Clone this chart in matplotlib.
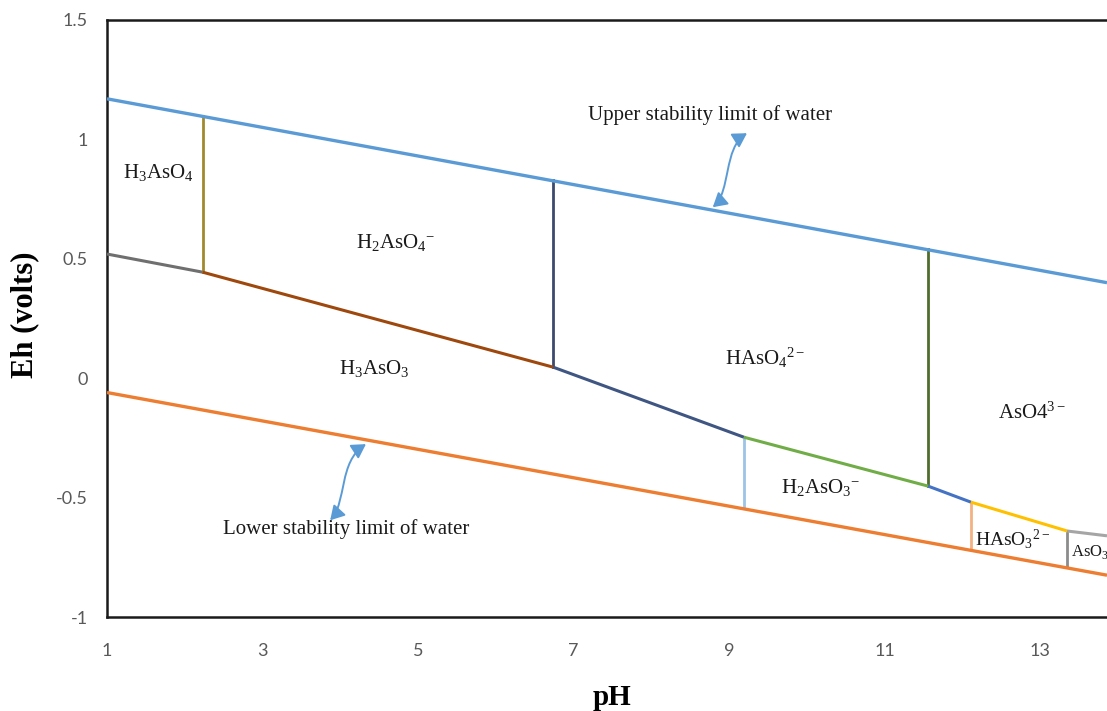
import matplotlib
matplotlib.use("Agg")
import matplotlib.pyplot as plt
from matplotlib.patches import FancyArrowPatch
from matplotlib.path import Path

plt.rcParams['mathtext.fontset'] = 'custom'
plt.rcParams['mathtext.rm'] = 'Liberation Serif'
plt.rcParams['mathtext.it'] = 'Liberation Serif:italic'
plt.rcParams['mathtext.bf'] = 'Liberation Serif:bold'

# ---- data ----
# water stability limits
water_ph = [1.0, 13.86]
upper_eh = [1.17, 0.40]
lower_eh = [-0.06, -0.825]

# arsenate / arsenite boundary (piecewise)
bound_ph = [1.0, 2.23, 6.74, 9.19, 11.56, 12.11, 13.35, 13.86]
bound_eh = [0.52, 0.444, 0.046, -0.247, -0.452, -0.519, -0.64, -0.66]
bound_colors = ['#6f6f6f', '#9e480e', '#3f5683', '#70ad47', '#4472c4',
                '#ffc000', '#a5a5a5']

# vertical (acid-base) boundaries
vert_ph = [2.23, 6.74, 11.56, 9.19, 12.11, 13.35]
vert_top = [1.10, 0.83, 0.54, -0.247, -0.519, -0.64]
vert_bottom = [0.444, 0.046, -0.452, -0.54, -0.71, -0.79]
vert_colors = ['#a08a2e', '#3b4a6e', '#4e6e2e', '#9dc3e6', '#f4b183', '#8c8c8c']

# species labels
species = [r'H$_3$AsO$_4$', r'H$_2$AsO$_4$$^{-}$', r'HAsO$_4$$^{2-}$', r'H$_3$AsO$_3$',
           r'AsO4$^{3-}$', r'H$_2$AsO$_3$$^{-}$', r'HAsO$_3$$^{2-}$']
species_ph = [1.66, 4.71, 9.46, 4.44, 12.9, 10.17, 12.65]
species_eh = [0.86, 0.57, 0.084, 0.042, -0.147, -0.456, -0.672]

x_ticks = [1, 3, 5, 7, 9, 11, 13]
y_ticks = [-1, -0.5, 0, 0.5, 1, 1.5]
y_ticklabels = ['-1', '-0.5', '0', '0.5', '1', '1.5']

# ---- figure ----
fig = plt.figure(figsize=(11.07, 7.11), dpi=100)
ax = fig.add_axes([107 / 1107, 1 - 617 / 711, 1000 / 1107, 597 / 711])

ax.plot(water_ph, upper_eh, color='#5b9bd5', lw=2.4, solid_capstyle='butt', zorder=3)
ax.plot(water_ph, lower_eh, color='#ed7d31', lw=2.4, solid_capstyle='butt', zorder=3)

for i, c in enumerate(bound_colors):
    ax.plot(bound_ph[i:i + 2], bound_eh[i:i + 2], color=c, lw=2.2,
            solid_capstyle='butt', zorder=4)

for x, t, b, c in zip(vert_ph, vert_top, vert_bottom, vert_colors):
    ax.plot([x, x], [b, t], color=c, lw=2.0, zorder=2)

for s, x, y in zip(species, species_ph, species_eh):
    ax.text(x, y, s, ha='center', va='center',
            fontsize=14 if s.startswith('HAsO$_3') else 15,
            family='Liberation Serif', color='#1a1a1a')

ax.text(13.40, -0.729, r'AsO$_3$$^{3-}$', ha='left', va='center', fontsize=12,
        family='Liberation Serif', color='#1a1a1a', clip_on=True)

# annotations
ax.text(8.76, 1.10, 'Upper stability limit of water', ha='center', va='center',
        fontsize=15, family='Liberation Serif', color='#1a1a1a')
ax.text(4.07, -0.63, 'Lower stability limit of water', ha='center', va='center',
        fontsize=15, family='Liberation Serif', color='#1a1a1a')

up_path = Path([(9.23, 1.026), (8.93, 0.965), (9.02, 0.78), (8.79, 0.716)],
               [Path.MOVETO, Path.CURVE4, Path.CURVE4, Path.CURVE4])
lo_path = Path([(3.87, -0.595), (4.08, -0.52), (3.98, -0.35), (4.33, -0.276)],
               [Path.MOVETO, Path.CURVE4, Path.CURVE4, Path.CURVE4])
for p in (up_path, lo_path):
    arr = FancyArrowPatch(path=p, arrowstyle='<|-|>,head_length=0.6,head_width=0.35',
                          mutation_scale=14, color='#5b9bd5', lw=1.4, zorder=5)
    ax.add_patch(arr)

ax.set_xlim(1, 13.86)
ax.set_ylim(-1, 1.5)
ax.set_xticks(x_ticks)
ax.set_xticklabels([str(v) for v in x_ticks])
ax.set_yticks(y_ticks)
ax.set_yticklabels(y_ticklabels)
ax.tick_params(length=0, labelsize=13, labelcolor='#595959')
ax.tick_params(axis='x', pad=19)
ax.tick_params(axis='y', pad=14)
for lab in ax.get_xticklabels() + ax.get_yticklabels():
    lab.set_family('Lato')

for side in ('left', 'bottom', 'top'):
    ax.spines[side].set_color('#1a1a1a')
    ax.spines[side].set_linewidth(1.8)
ax.spines['right'].set_visible(False)

ax.set_xlabel('pH', fontsize=21, fontweight='bold', family='Liberation Serif')
ax.set_ylabel('Eh (volts)', fontsize=22, fontweight='bold', family='Liberation Serif')
ax.xaxis.set_label_coords(0.505, -0.112)
ax.yaxis.set_label_coords(-0.068, 0.506)

fig.savefig('out.png', dpi=100, facecolor='white')
